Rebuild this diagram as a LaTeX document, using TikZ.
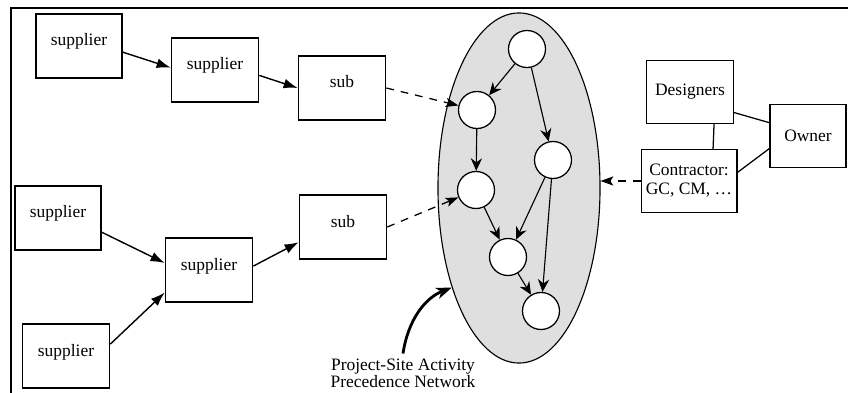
\documentclass[tikz,border=0pt]{standalone}
\usepackage{fontspec}
\setmainfont{Liberation Serif}
\usetikzlibrary{arrows.meta,shapes.geometric}

\begin{document}
\begin{tikzpicture}[x=0.025cm,y=-0.025cm,
    font=\fontsize{12.4}{13.5}\selectfont,
    box/.style={draw,line width=1pt,minimum width=2.18cm,minimum height=1.6cm,
      text height=1.2ex,text depth=1.2ex},
    party/.style={draw,line width=1pt,minimum width=2.17cm,minimum height=1.56cm},
    act/.style={circle,draw,fill=white,line width=0.9pt,minimum size=0.925cm,inner sep=0pt},
    feed/.style={line width=1pt,-{Latex[length=10pt,width=7pt]}},
    prec/.style={line width=0.8pt,-{Stealth[length=9pt,width=8pt,inset=3pt]}},
    link/.style={line width=0.9pt,dash pattern=on 5.5pt off 5pt,
      -{Stealth[length=9pt,width=6.5pt,inset=2pt]}}]
      \useasboundingbox (0,0) rectangle (848,393);
      \draw[line width=1.6pt] (848,8) -- (11,8) -- (11,393);

      \node [box,minimum width=2.15cm] (1) at (79,46) {supplier};
      \node [box] (2) at (215,70) {supplier};
      \node [box] (3) at (342,88) {sub};
      \node [box,minimum width=2.15cm] (4) at (58,218) {supplier};
      \node [box] (5) at (209,270) {supplier};
      \node [box] (6) at (66,356) {supplier};
      \node [box] (7) at (343,227) {sub};

      \node [party] (8) at (690,92) {Designers};
      \node [party,align=center] (9) at (689,181) {Contractor:\\GC, CM, \dots};
      \node [party,minimum width=1.9cm] (10) at (808,136) {Owner};

      \node [ellipse,draw,fill=gray!25,line width=0.8pt,minimum width=4.05cm,
        minimum height=8.75cm,inner sep=0pt] (net) at (519,188) {};
      \node [act] (a) at (527,49) {};
      \node [act] (b) at (477,110) {};
      \node [act] (c) at (553,160) {};
      \node [act] (d) at (476,190) {};
      \node [act] (e) at (508,257) {};
      \node [act] (f) at (541,311) {};

      \node [align=center,font=\fontsize{12.4}{10.7}\selectfont] (lbl) at (403,373)
        {Project-Site Activity\\Precedence Network};

      \draw[feed] (1.-8) -- (2.177);
      \draw[feed] (2.-7) -- (3.west);
      \draw[feed] (4.-18) -- (5.171);
      \draw[feed] (6.15) -- (5.207);
      \draw[feed] (5.5) -- (7.199);

      \draw[prec] (a) -- (b);
      \draw[prec] (a) -- (c);
      \draw[prec] (b) -- (d);
      \draw[prec] (d) -- (e);
      \draw[prec] (c) -- (e);
      \draw[prec] (c) -- (f);
      \draw[prec] (e) -- (f);

      \draw[link] (3.east) -- (b);
      \draw[link] (7.east) -- (d);
      \draw[link] (9.west) -- (9.west -| net.east);

      \draw[line width=0.9pt] (8.-53) -- (9.53);
      \draw[line width=0.9pt] (8.-25) -- (10.161);
      \draw[line width=0.9pt] (9.10) -- (10.198);

      \draw[line width=2pt,-{Stealth[length=11pt,width=8pt,inset=3pt]}]
        (lbl.north) .. controls (408,320) and (425,298) .. (net.236);
      %% \draw[feed] (7) -- (net);
    \end{tikzpicture}
\end{document}
